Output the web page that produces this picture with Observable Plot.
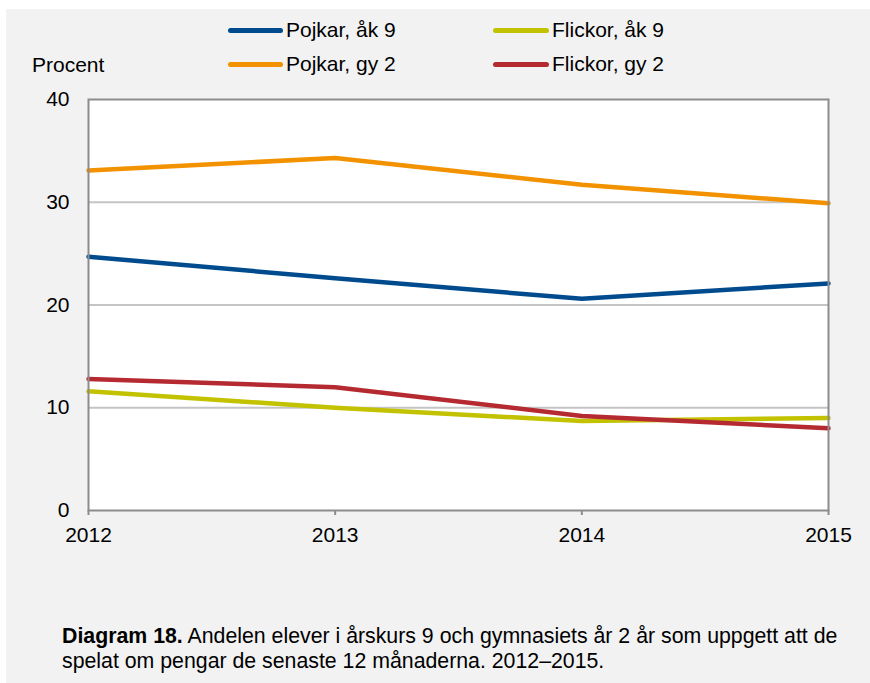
<!DOCTYPE html>
<html>
<head>
<meta charset="utf-8">
<script src="https://cdn.jsdelivr.net/npm/d3@7"></script>
<script src="https://cdn.jsdelivr.net/npm/@observablehq/plot@0.6"></script>
<style>
  body { margin: 0; background: #ffffff; font-family: "Liberation Sans", Arial, sans-serif; }
  #panel { position: absolute; left: 6px; top: 9px; width: 864px; height: 674px; background: #f2f2f2; overflow: hidden; }
  .abs { position: absolute; white-space: nowrap; color: #000; font-size: 21px; line-height: 24px; }
  .sw { position: absolute; height: 5px; border-radius: 3px; }
  #chart { position: absolute; left: 0; top: 71px; }
  #caption { position: absolute; left: 56px; top: 615px; font-size: 21.3px; line-height: 25px; color: #000; white-space: nowrap; }
</style>
</head>
<body>
<div id="panel">
  <div id="legend"></div>
  <div class="abs" style="left:26px; top:44px;">Procent</div>
  <div id="chart"></div>
  <div id="caption"><b>Diagram 18.</b> Andelen elever i årskurs 9 och gymnasiets år 2 år som uppgett att de<br>spelat om pengar de senaste 12 månaderna. 2012–2015.</div>
</div>
<script>
// ---- data ----
const years = [2012, 2013, 2014, 2015];
const seriesNames = ["Pojkar, åk 9", "Flickor, åk 9", "Pojkar, gy 2", "Flickor, gy 2"];
const seriesColors = ["#004b8d", "#c2c200", "#f39200", "#b52a30"];
const pojkarAk9 = [24.7, 22.6, 20.6, 22.1];
const flickorAk9 = [11.6, 10.0, 8.7, 9.0];
const pojkarGy2 = [33.1, 34.3, 31.7, 29.9];
const flickorGy2 = [12.8, 12.0, 9.2, 8.0];
const yTicks = [0, 10, 20, 30, 40];
const gridTicks = [10, 20, 30];

const seriesValues = [pojkarAk9, flickorAk9, pojkarGy2, flickorGy2];
const rows = [];
seriesNames.forEach((name, i) => {
  years.forEach((yr, j) => rows.push({ series: name, year: yr, value: seriesValues[i][j] }));
});

// ---- legend (HTML) ----
const legend = document.getElementById("legend");
const legendPos = [
  { sx: 222, tx: 280, cy: 21 },
  { sx: 487, tx: 546, cy: 21 },
  { sx: 222, tx: 280, cy: 55 },
  { sx: 487, tx: 546, cy: 55 }
];
seriesNames.forEach((name, i) => {
  const p = legendPos[i];
  const sw = document.createElement("div");
  sw.className = "sw";
  sw.style.left = p.sx + "px";
  sw.style.width = (p.tx - p.sx - 3) + "px";
  sw.style.top = (p.cy - 2.5) + "px";
  sw.style.background = seriesColors[i];
  legend.appendChild(sw);
  const t = document.createElement("div");
  t.className = "abs";
  t.style.left = p.tx + "px";
  t.style.top = (p.cy - 12) + "px";
  t.textContent = name;
  legend.appendChild(t);
});

// ---- chart ----
const chart = Plot.plot({
  width: 864,
  height: 480,
  marginLeft: 82,
  marginRight: 42,
  marginTop: 19,
  marginBottom: 50,
  style: { background: "transparent", fontFamily: "'Liberation Sans', Arial, sans-serif", fontSize: "21px", color: "#000", overflow: "visible" },
  x: { domain: [2012, 2015] },
  y: { domain: [0, 40] },
  color: { domain: seriesNames, range: seriesColors },
  marks: [
    Plot.frame({ fill: "white", stroke: "none" }),
    Plot.gridY(gridTicks, { stroke: "#c4c4c4", strokeOpacity: 1, strokeWidth: 2 }),
    Plot.line(rows, { x: "year", y: "value", z: "series", stroke: "series", strokeWidth: 4.5, strokeLinecap: "round", strokeLinejoin: "round" }),
    Plot.frame({ stroke: "#8c8c8c", strokeWidth: 2 }),
    Plot.axisX(years, { tickFormat: d => String(d), tickSize: 5, tickPadding: 12, stroke: "#8c8c8c", strokeWidth: 2, fill: "#000", label: null }),
    Plot.axisY(yTicks, { tickSize: 0, tickPadding: 19, fill: "#000", label: null })
  ]
});
document.getElementById("chart").appendChild(chart);
</script>
</body>
</html>
